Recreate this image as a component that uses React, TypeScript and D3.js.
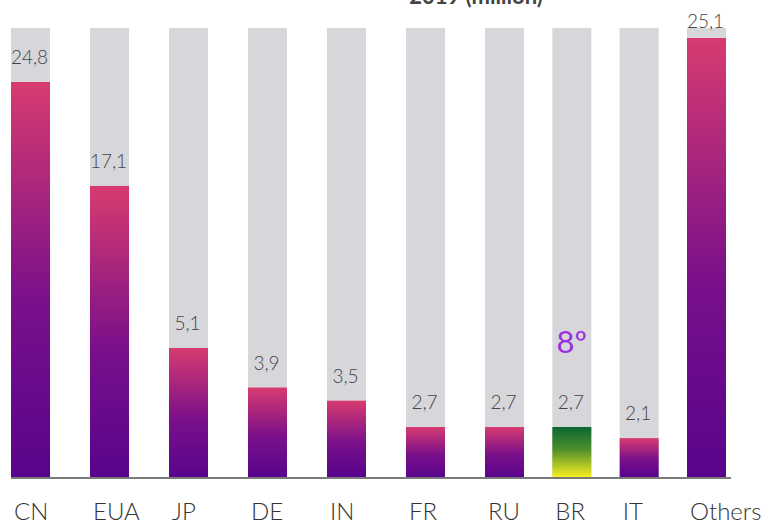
import React, { useEffect, useRef } from 'react';
import { select, scaleLinear } from 'd3';

const countries = ['CN', 'EUA', 'JP', 'DE', 'IN', 'FR', 'RU', 'BR', 'IT', 'Others'];
const vehicles = [24.8, 17.1, 5.1, 3.9, 3.5, 2.7, 2.7, 2.7, 2.1, 25.1];
const valueLabels = ['24,8', '17,1', '5,1', '3,9', '3,5', '2,7', '2,7', '2,7', '2,1', '25,1'];
const highlight = 'BR';
const highlightRank = '8º';
const title = '2019 (million)';

const WIDTH = 771;
const HEIGHT = 524;

const App = () => {
  const svgRef = useRef(null);

  useEffect(() => {
    const svg = select(svgRef.current);
    const baseline = 477;
    const barWidth = 39;

    // infographic: bars are not drawn to a single linear scale
    const yScale = scaleLinear()
      .domain([0, 2.7, 5.1, 24.8, 25.1])
      .range([baseline, 427, 348, 82, 38]);

    // the last three columns sit closer together
    const xScale = scaleLinear().domain([0, 6, 9]).range([11, 485, 687]);

    const data = countries.map((c, i) => ({
      country: c,
      value: vehicles[i],
      label: valueLabels[i],
      i
    }));

    const defs = svg.select('defs');
    const purple = defs
      .selectAll('#grad-purple')
      .data([0])
      .join('linearGradient')
      .attr('id', 'grad-purple')
      .attr('x1', 0)
      .attr('y1', 0)
      .attr('x2', 0)
      .attr('y2', 1);
    purple
      .selectAll('stop')
      .data([
        ['0%', '#d73b70'],
        ['55%', '#7a108a'],
        ['100%', '#58048c']
      ])
      .join('stop')
      .attr('offset', d => d[0])
      .attr('stop-color', d => d[1]);

    const green = defs
      .selectAll('#grad-br')
      .data([0])
      .join('linearGradient')
      .attr('id', 'grad-br')
      .attr('x1', 0)
      .attr('y1', 0)
      .attr('x2', 0)
      .attr('y2', 1);
    green
      .selectAll('stop')
      .data([
        ['0%', '#0a6733'],
        ['45%', '#4e8f2c'],
        ['100%', '#f6ef1e']
      ])
      .join('stop')
      .attr('offset', d => d[0])
      .attr('stop-color', d => d[1]);

    const content = svg.select('.content');

    /* gray tracks */
    content
      .selectAll('.track')
      .data(data)
      .join('rect')
      .attr('class', 'track')
      .attr('x', d => xScale(d.i))
      .attr('y', 28)
      .attr('width', barWidth)
      .attr('height', baseline - 28)
      .attr('fill', '#d7d7db');

    /* value bars */
    content
      .selectAll('.bar')
      .data(data)
      .join('rect')
      .attr('class', 'bar')
      .attr('x', d => xScale(d.i))
      .attr('y', d => yScale(d.value))
      .attr('width', barWidth)
      .attr('height', d => baseline - yScale(d.value))
      .attr('fill', d =>
        d.country === highlight ? 'url(#grad-br)' : 'url(#grad-purple)'
      );

    /* value labels */
    content
      .selectAll('.value')
      .data(data)
      .join('text')
      .attr('class', 'value')
      .attr('x', d => xScale(d.i) + barWidth / 2 - 1)
      .attr('y', d => Math.max(yScale(d.value) - 18, 28))
      .attr('text-anchor', 'middle')
      .attr('font-family', 'Lato, sans-serif')
      .attr('font-weight', 300)
      .attr('font-size', 19)
      .attr('fill', '#444')
      .text(d => d.label);

    /* rank marker */
    const br = data.find(d => d.country === highlight);
    content
      .selectAll('.rank')
      .data([br])
      .join('text')
      .attr('class', 'rank')
      .attr('x', d => xScale(d.i) + barWidth / 2)
      .attr('y', 353)
      .attr('text-anchor', 'middle')
      .attr('font-family', 'Lato, sans-serif')
      .attr('font-size', 31)
      .attr('fill', '#9a30dd')
      .text(highlightRank);

    /* axis line */
    svg
      .select('.axis-line')
      .attr('x1', xScale(0))
      .attr('x2', xScale(9) + barWidth + 5)
      .attr('y1', baseline + 1)
      .attr('y2', baseline + 1)
      .attr('stroke', '#7a7a7a')
      .attr('stroke-width', 2);

    /* category labels */
    svg
      .select('.x-labels')
      .selectAll('text')
      .data(data)
      .join('text')
      .attr('x', d => xScale(d.i) + 3)
      .attr('y', 520)
      .attr('font-family', 'Lato, sans-serif')
      .attr('font-weight', 300)
      .attr('font-size', 24)
      .attr('fill', '#333')
      .text(d => d.country);

    svg
      .select('.title')
      .attr('x', 476)
      .attr('y', 4)
      .attr('text-anchor', 'middle')
      .attr('font-family', 'Lato, sans-serif')
      .attr('font-weight', 700)
      .attr('font-size', 22)
      .attr('fill', '#444')
      .text(title);
  }, []);

  return (
    <svg
      ref={svgRef}
      width={WIDTH}
      height={HEIGHT}
      style={{ position: 'absolute', left: 0, top: 0, display: 'block', background: '#fff' }}
    >
      <defs />
      <text className="title" />
      <g className="content" />
      <line className="axis-line" />
      <g className="x-labels" />
    </svg>
  );
};

export default App;
